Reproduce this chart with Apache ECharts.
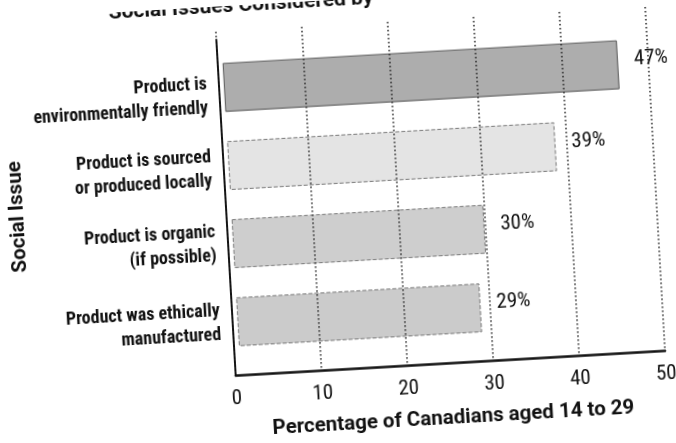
<!DOCTYPE html>
<html>
<head>
<meta charset="utf-8">
<script src="https://cdn.jsdelivr.net/npm/echarts@6/dist/echarts.min.js"></script>
<style>
  html, body { margin: 0; padding: 0; background: #fff; overflow: hidden; }
  #chart { width: 676px; height: 443px; transform: rotate(-3.3deg); transform-origin: 50% 50%; }
</style>
</head>
<body>
<div id="chart"></div>
<script>
// Survey results: share of Canadians aged 14 to 29 who consider each issue
const categories = [
  'Product is\nenvironmentally friendly',
  'Product is sourced\nor produced locally',
  'Product is organic\n(if possible)',
  'Product was ethically\nmanufactured'
];
const percentages = [47, 39, 30, 29];
const barFills = ['#adadad', '#e4e4e4', '#cecece', '#cbcbcb'];
// height of an empty spacer line above each category label (pushes it down by half)
const labelSpacer = [16, 6, 0, 2];

const titleText = 'Social Issues Considered by';
const xAxisName = 'Percentage of Canadians aged 14 to 29';
const yAxisName = 'Social Issue';

const condensed = "'Roboto Condensed', Roboto, sans-serif";
const plain = "Roboto, 'Noto Sans', sans-serif";

const labelFont = {
  fontFamily: condensed,
  fontWeight: 'bold',
  fontSize: 18,
  lineHeight: 24,
  color: '#111',
  align: 'right'
};
const richLabel = { n: { ...labelFont } };
labelSpacer.forEach((h, i) => {
  richLabel['s' + i] = { fontSize: 1, lineHeight: h, height: h, align: 'right' };
});

const chart = echarts.init(document.getElementById('chart'), null, { renderer: 'canvas' });

chart.setOption({
  backgroundColor: '#fff',
  animation: false,
  title: {
    text: titleText,
    left: 116,
    top: -15,
    textStyle: { fontFamily: plain, fontWeight: 'bold', fontSize: 21, color: '#111' }
  },
  grid: [
    // scale frame: value axis and dotted guides
    { left: 227, right: 19, top: 25, bottom: 74, containLabel: false },
    // vertical axis line
    { left: 227, right: 19, top: 33, bottom: 74, containLabel: false },
    // bars
    { left: 230, right: 24, top: 42, bottom: 88, containLabel: false }
  ],
  xAxis: [
    {
      gridIndex: 0,
      type: 'value',
      min: 0, max: 50, interval: 10,
      z: 10,
      name: xAxisName,
      nameLocation: 'middle',
      nameGap: 45,
      nameTextStyle: { fontFamily: plain, fontWeight: 'bold', fontSize: 20.5, color: '#111' },
      axisLine: { show: true, lineStyle: { color: '#111', width: 2.5 } },
      axisTick: { show: false },
      axisLabel: { margin: 13, fontFamily: condensed, fontSize: 21, color: '#111' },
      splitLine: { show: true, lineStyle: { color: '#222', width: 1.5, type: [1.5, 2.5] } }
    },
    { gridIndex: 1, type: 'value', min: 0, max: 50, show: false },
    { gridIndex: 2, type: 'value', min: 0, max: 50, show: false }
  ],
  yAxis: [
    { gridIndex: 0, type: 'value', show: false },
    {
      gridIndex: 1,
      type: 'value',
      axisLine: { show: true, lineStyle: { color: '#111', width: 2 } },
      axisTick: { show: false },
      axisLabel: { show: false },
      splitLine: { show: false }
    },
    {
      gridIndex: 2,
      type: 'category',
      data: categories,
      inverse: true,
      name: yAxisName,
      nameLocation: 'middle',
      nameRotate: 90,
      nameGap: 197,
      nameTextStyle: { fontFamily: plain, fontWeight: 'bold', fontSize: 20.5, color: '#111' },
      axisLine: { show: false },
      axisTick: { show: false },
      axisLabel: {
        margin: 17,
        ...labelFont,
        formatter: (value, index) => {
          const body = value.split('\n').map(l => '{n|' + l + '}').join('\n');
          return labelSpacer[index] > 0 ? '{s' + index + '| }\n' + body : body;
        },
        rich: richLabel
      }
    }
  ],
  series: [{
    type: 'bar',
    xAxisIndex: 2,
    yAxisIndex: 2,
    barWidth: 49,
    data: percentages.map((v, i) => ({
      value: v,
      itemStyle: {
        color: barFills[i],
        borderColor: i === 0 ? '#555' : '#777',
        borderWidth: 1,
        borderType: i === 0 ? 'solid' : 'dashed'
      }
    })),
    label: {
      show: true,
      position: 'right',
      distance: 16,
      offset: [0, -4],
      formatter: p => p.value + '%',
      fontFamily: condensed,
      fontSize: 21,
      color: '#111'
    }
  }]
});
</script>
</body>
</html>
